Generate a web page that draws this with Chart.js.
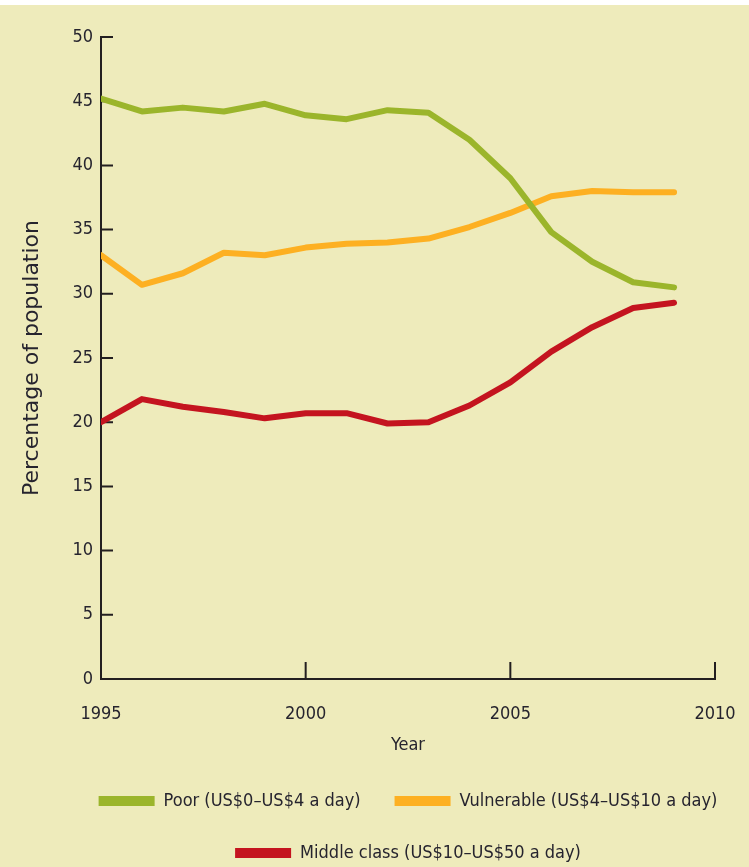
<!DOCTYPE html>
<html>
<head>
<meta charset="utf-8">
<script src="https://cdn.jsdelivr.net/npm/chart.js@4.4.0/dist/chart.umd.min.js"></script>
<style>
  body { margin: 0; background: #fff; }
  canvas { display: block; }
</style>
</head>
<body>
<canvas id="classChart" width="749" height="867"></canvas>
<script>
// population share by income class, 1995-2009
var years = [1995, 1996, 1997, 1998, 1999, 2000, 2001, 2002, 2003, 2004, 2005, 2006, 2007, 2008, 2009];
var poor = [45.2, 44.2, 44.5, 44.2, 44.8, 43.9, 43.6, 44.3, 44.1, 42.0, 39.0, 34.8, 32.5, 30.9, 30.5];
var vulnerable = [33.0, 30.7, 31.6, 33.2, 33.0, 33.6, 33.9, 34.0, 34.3, 35.2, 36.3, 37.6, 38.0, 37.9, 37.9];
var middleClass = [20.0, 21.8, 21.2, 20.8, 20.3, 20.7, 20.7, 19.9, 20.0, 21.3, 23.1, 25.5, 27.4, 28.9, 29.3];
var seriesNames = ['Poor (US$0\u2013US$4 a day)', 'Vulnerable (US$4\u2013US$10 a day)', 'Middle class (US$10\u2013US$50 a day)'];
var seriesColors = ['#9bb52b', '#fdb022', '#c4141f'];
var xTicks = [1995, 2000, 2005, 2010];
var yTicks = [0, 5, 10, 15, 20, 25, 30, 35, 40, 45, 50];

var inkColor = '#26242e';
var axisColor = '#231f20';
var narrowFont = "'DejaVu Sans Condensed', 'Liberation Sans Narrow', sans-serif";

function points(values) {
    return years.map(function (yr, i) { return { x: yr, y: values[i] }; });
}

function makeSet(i, values) {
    return {
        label: seriesNames[i],
        data: points(values),
        borderColor: seriesColors[i],
        backgroundColor: seriesColors[i],
        borderWidth: 6,
        borderCapStyle: 'round',
        borderJoinStyle: 'round',
        pointRadius: 0,
        tension: 0
    };
}

// beige page with a thin white strip on top
var pageBackground = {
    id: 'pageBackground',
    beforeDraw: function (chart) {
        var ctx = chart.ctx;
        ctx.save();
        ctx.fillStyle = '#eeebbb';
        ctx.fillRect(0, 5, chart.width, chart.height - 5);
        ctx.restore();
    }
};

// tick marks pointing into the plot, like the original
var inwardTicks = {
    id: 'inwardTicks',
    beforeDatasetsDraw: function (chart) {
        var ctx = chart.ctx, xs = chart.scales.x, ys = chart.scales.y;
        ctx.save();
        ctx.strokeStyle = axisColor;
        ctx.lineWidth = 2;
        ctx.beginPath();
        yTicks.forEach(function (v) {
            var py = ys.getPixelForValue(v);
            ctx.moveTo(xs.left, py);
            ctx.lineTo(xs.left + 12, py);
        });
        xTicks.forEach(function (v) {
            var px = xs.getPixelForValue(v);
            ctx.moveTo(px, ys.bottom);
            ctx.lineTo(px, ys.bottom - 17);
        });
        ctx.stroke();
        ctx.restore();
    }
};

// centre the legend under the plot area instead of the canvas
var legendShift = {
    id: 'legendShift',
    afterLayout: function (chart) {
        var lg = chart.legend, area = chart.chartArea;
        var half = (lg.right - lg.left) / 2;
        var mid = (area.left + area.right) / 2;
        lg.left = mid - half;
        lg.right = mid + half;
    }
};

var ctx = document.getElementById('classChart').getContext('2d');
var chart = new Chart(ctx, {
    type: 'line',
    data: {
        datasets: [makeSet(0, poor), makeSet(1, vulnerable), makeSet(2, middleClass)]
    },
    options: {
        responsive: false,
        animation: false,
        layout: {
            padding: { left: 0, right: 0, top: 37, bottom: -5 }
        },
        scales: {
            x: {
                type: 'linear',
                min: 1995,
                max: 2010,
                afterFit: function (scale) {
                    scale.height = 79;
                    scale.paddingRight = 34;
                },
                afterBuildTicks: function (scale) {
                    scale.ticks = xTicks.map(function (v) { return { value: v }; });
                },
                ticks: {
                    padding: 25,
                    color: inkColor,
                    font: { family: narrowFont, size: 18 },
                    maxRotation: 0,
                    callback: function (v) { return String(v); }
                },
                grid: { display: false, drawTicks: false },
                border: { display: true, color: axisColor, width: 2 },
                title: {
                    display: true,
                    text: 'Year',
                    color: inkColor,
                    font: { family: narrowFont, size: 18 },
                    padding: { top: 0, bottom: 2 }
                }
            },
            y: {
                min: 0,
                max: 50,
                afterFit: function (scale) { scale.width = 101; },
                afterBuildTicks: function (scale) {
                    scale.ticks = yTicks.map(function (v) { return { value: v }; });
                },
                ticks: {
                    padding: 8,
                    color: inkColor,
                    font: { family: narrowFont, size: 18 }
                },
                grid: { display: false, drawTicks: false },
                border: { display: true, color: axisColor, width: 2 },
                title: {
                    display: true,
                    text: 'Percentage of population',
                    color: inkColor,
                    font: { family: "'DejaVu Sans', sans-serif", size: 22 },
                    padding: { top: 19, bottom: 0 }
                }
            }
        },
        plugins: {
            legend: {
                position: 'bottom',
                labels: {
                    boxWidth: 56,
                    boxHeight: 10,
                    padding: 34,
                    color: inkColor,
                    font: { family: narrowFont, size: 18 },
                    generateLabels: function (chart) {
                        return Chart.defaults.plugins.legend.labels.generateLabels(chart).map(function (item) {
                            item.lineWidth = 0;
                            item.fillStyle = item.strokeStyle;
                            return item;
                        });
                    }
                }
            },
            tooltip: { enabled: false }
        }
    },
    plugins: [pageBackground, inwardTicks, legendShift]
});
</script>
</body>
</html>
